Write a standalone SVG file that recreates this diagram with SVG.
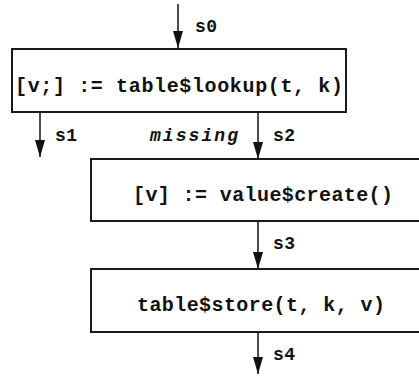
<svg xmlns="http://www.w3.org/2000/svg" width="419" height="379" viewBox="0 0 419 379">
  <style>
    .box { fill: #ffffff; stroke: #1a1a1a; stroke-width: 2; }
    .code { font-family: "Liberation Mono", "Courier New", monospace; font-weight: bold; font-size: 20px; fill: #111111; }
    .lbl { font-family: "Liberation Mono", "Courier New", monospace; font-weight: bold; font-size: 18px; fill: #111111; }
    .cond { font-style: italic; }
    .edge { stroke: #111111; stroke-width: 1.5; fill: none; marker-end: url(#head); }
  </style>
  <defs>
    <!-- filled arrowhead, pointing along the line direction -->
    <marker id="head" markerUnits="userSpaceOnUse" markerWidth="17" markerHeight="10" viewBox="0 0 17 10" refX="17" refY="5" orient="auto">
      <path d="M0,0 L17,5 L0,10 Z" fill="#111111"/>
    </marker>
  </defs>

  <!-- control-flow edges -->
  <g id="edges">
    <line class="edge" x1="178" y1="4" x2="178" y2="48"/>
    <line class="edge" x1="40" y1="112" x2="40" y2="157"/>
    <line class="edge" x1="258" y1="112" x2="258" y2="159"/>
    <line class="edge" x1="258" y1="221" x2="258" y2="269"/>
    <line class="edge" x1="258" y1="332" x2="258" y2="374"/>
  </g>

  <!-- edge labels -->
  <g id="labels">
    <text class="lbl" x="195" y="32" textLength="22">s0</text>
    <text class="lbl" x="55" y="141" textLength="22">s1</text>
    <text class="lbl cond" x="150" y="141" textLength="88">missing</text>
    <text class="lbl" x="273" y="141" textLength="22">s2</text>
    <text class="lbl" x="273" y="249" textLength="22">s3</text>
    <text class="lbl" x="273" y="360" textLength="22">s4</text>
  </g>

  <g id="lookup">
    <rect class="box" x="12" y="49" width="334" height="63"/>
    <text class="code" x="179" y="92" text-anchor="middle" textLength="328">[v;] := table$lookup(t, k)</text>
  </g>

  <g id="create">
    <rect class="box" x="91" y="159" width="342" height="62"/>
    <text class="code" x="263" y="201" text-anchor="middle" textLength="260">[v] := value$create()</text>
  </g>

  <g id="store">
    <rect class="box" x="91" y="269" width="342" height="63"/>
    <text class="code" x="261" y="311" text-anchor="middle" textLength="248">table$store(t, k, v)</text>
  </g>
</svg>
